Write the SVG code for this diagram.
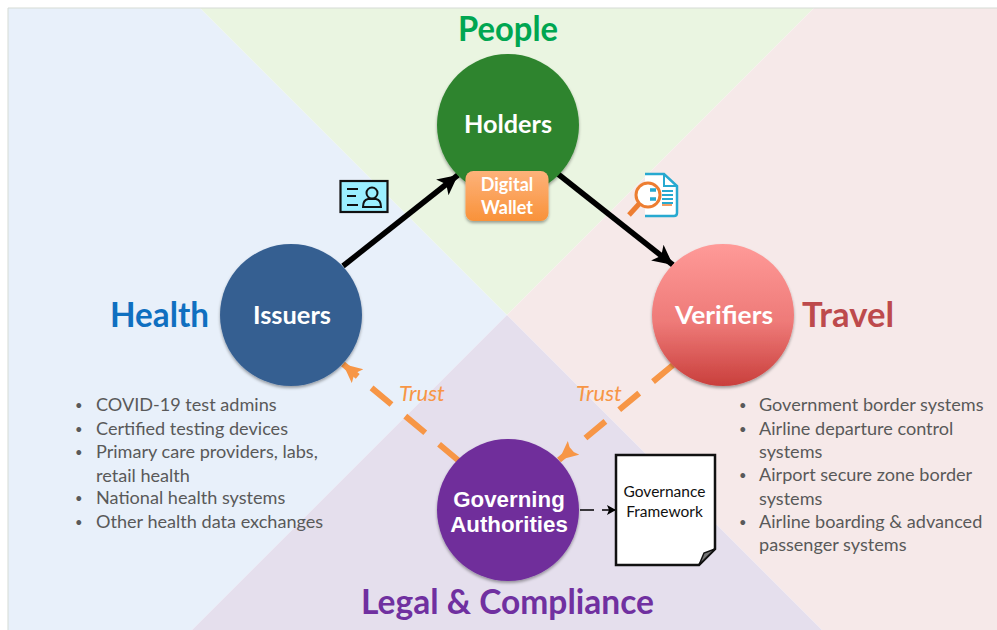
<svg xmlns="http://www.w3.org/2000/svg" width="997" height="630" viewBox="0 0 997 630">
<style>
.t{font-family:Lato,"Liberation Sans",sans-serif}
.h{font-weight:700;font-size:34px;text-anchor:middle}
.n{font-weight:700;font-size:25px;fill:#fff;text-anchor:middle}
.b{font-size:18.1px;fill:#595959}
.d{font-size:13px;fill:#595959}
.tr{font-style:italic;font-size:22px;fill:#f79646}
.gv{font-size:15.500px;fill:#111;text-anchor:middle}
.dash{stroke:#f79646;stroke-width:6;stroke-dasharray:26 18;fill:none}
</style>
<defs>
<filter id="s" x="-10%" y="-10%" width="120%" height="125%"><feDropShadow dx="0" dy="2" stdDeviation="1.5" flood-color="#000" flood-opacity=".35"/></filter>
<linearGradient id="vg" x1="0" y1="0" x2="0" y2="1"><stop offset="0" stop-color="#ff9a98"/><stop offset=".55" stop-color="#ee7a78"/><stop offset="1" stop-color="#c93f3c"/></linearGradient>
<linearGradient id="wg" x1="0" y1="0" x2="0" y2="1"><stop offset="0" stop-color="#fdb27a"/><stop offset="1" stop-color="#f9923a"/></linearGradient>
<marker id="ab" markerUnits="userSpaceOnUse" markerWidth="26" markerHeight="24" refX="20" refY="10" orient="auto"><path d="M0 0L20 10L0 20L5 10Z" fill="#000"/></marker>
<marker id="ao" markerUnits="userSpaceOnUse" markerWidth="24" markerHeight="22" refX="19" refY="9" orient="auto"><path d="M0 0L19 9L0 18L4 9Z" fill="#f79646"/></marker>
<marker id="as" markerUnits="userSpaceOnUse" markerWidth="12" markerHeight="12" refX="9" refY="5" orient="auto"><path d="M0 0L9 5L0 10L2 5Z" fill="#000"/></marker>
</defs>
<rect width="997" height="630" fill="#fff"/>
<g id="background">
<polygon points="8,8 200,8 507,315 192,630 8,630" fill="#e8f0fa"/>
<polygon points="200,8 814,8 507,315" fill="#eaf5e1"/>
<polygon points="814,8 997,8 997,630 822,630 507,315" fill="#f6e9e9"/>
<polygon points="507,315 822,630 192,630" fill="#e5dfed"/>
<path d="M8 630V8H997" fill="none" stroke="#d5dbd5" stroke-width="1"/>
</g>
<g id="connectors">
<line x1="343" y1="266" x2="458" y2="175" stroke="#000" stroke-width="5.500" marker-end="url(#ab)"/>
<line x1="558" y1="174" x2="673" y2="265" stroke="#000" stroke-width="5.500" marker-end="url(#ab)"/>
<line x1="459" y1="461" x2="343" y2="364" class="dash" marker-end="url(#ao)"/>
<line x1="673" y1="365" x2="559" y2="460" class="dash" marker-end="url(#ao)"/>
<line x1="580" y1="510" x2="616" y2="510" stroke="#000" stroke-width="1.600" stroke-dasharray="14 8" marker-end="url(#as)"/>
</g>
<g id="holders">
<circle cx="508" cy="125" r="71" fill="#2e842e" filter="url(#s)"/>
<text class="t n" x="508" y="133" textLength="88" lengthAdjust="spacingAndGlyphs">Holders</text>
</g>
<g id="digital-wallet">
<rect x="465.500" y="171" width="83" height="50" rx="8" fill="url(#wg)" filter="url(#s)"/>
<text class="t" x="507" y="191" font-size="18" font-weight="700" fill="#fff" text-anchor="middle">Digital</text>
<text class="t" x="507" y="214" font-size="18" font-weight="700" fill="#fff" text-anchor="middle">Wallet</text>
</g>
<g id="issuers">
<circle cx="291" cy="315" r="71" fill="#355f91" filter="url(#s)"/>
<text class="t n" x="292" y="324" textLength="78" lengthAdjust="spacingAndGlyphs">Issuers</text>
</g>
<g id="verifiers">
<circle cx="723" cy="315" r="71" fill="url(#vg)" filter="url(#s)"/>
<text class="t n" x="724" y="324" textLength="98" lengthAdjust="spacingAndGlyphs">Verifiers</text>
</g>
<g id="governing-authorities">
<circle cx="508" cy="510" r="71" fill="#6f2e9b" filter="url(#s)"/>
<text x="509" y="507" font-family="'Liberation Sans',sans-serif" font-weight="700" font-size="22.300" fill="#fff" text-anchor="middle">Governing</text>
<text x="509" y="532" font-family="'Liberation Sans',sans-serif" font-weight="700" font-size="22.300" fill="#fff" text-anchor="middle">Authorities</text>
</g>
<g id="governance-framework">
<path d="M616 455H715V549L699 565H616Z" fill="#fff" stroke="#111" stroke-width="2.500"/>
<path d="M699 565L704 553L715 549Z" fill="#777" stroke="#111" stroke-width="1.500"/>
<text class="t gv" x="664.500" y="497">Governance</text>
<text class="t gv" x="664.500" y="517">Framework</text>
</g>
<g id="labels">
<text class="t h" x="508" y="41" fill="#00a651" textLength="100" lengthAdjust="spacingAndGlyphs">People</text>
<text class="t h" x="159.500" y="327" fill="#0f6fc0" textLength="99" lengthAdjust="spacingAndGlyphs">Health</text>
<text class="t h" x="848" y="327" fill="#bd4a4c" textLength="92" lengthAdjust="spacingAndGlyphs">Travel</text>
<text class="t h" x="507.500" y="614" fill="#7030a0" textLength="293" lengthAdjust="spacingAndGlyphs">Legal &amp; Compliance</text>
<text class="t tr" x="399" y="401">Trust</text>
<text class="t tr" x="576" y="401">Trust</text>
</g>
<g id="id-card-icon">
<rect x="340.500" y="181" width="47" height="31" fill="#9befff" stroke="#111" stroke-width="2.200"/>
<path d="M347 189h11M347 196h9M347 205h11" stroke="#111" stroke-width="2" fill="none"/>
<circle cx="372" cy="193" r="5.500" fill="none" stroke="#111" stroke-width="2"/>
<path d="M363 207q0-7 5-8h8q5 1 5 8Z" fill="none" stroke="#111" stroke-width="2"/>
</g>
<g id="document-search-icon">
<path d="M645 174H664L677 186V213Q677 216 674 216H645" fill="#fff" stroke="#27a9d0" stroke-width="2.500"/>
<path d="M664 174V186H677" fill="none" stroke="#27a9d0" stroke-width="2"/>
<path d="M662 191h11M662 195h11M662 199h11M662 203h11" stroke="#27a9d0" stroke-width="1.800"/>
<path d="M662 205h10" stroke="#ed7d31" stroke-width="1.500"/>
<circle cx="648" cy="195" r="12" fill="#fff" stroke="#ed7d31" stroke-width="3"/>
<path d="M639 204L629 215" stroke="#ed7d31" stroke-width="5"/>
<path d="M650 190h6M650 199h6" stroke="#27a9d0" stroke-width="3.500"/>
</g>
<g id="health-list">
<text class="t d" x="75" y="410">•</text><text class="t b" x="96" y="411">COVID-19 test admins</text>
<text class="t d" x="75" y="434">•</text><text class="t b" x="96" y="435">Certified testing devices</text>
<text class="t d" x="75" y="457">•</text><text class="t b" x="96" y="458">Primary care providers, labs,</text>
<text class="t b" x="96" y="482">retail health</text>
<text class="t d" x="75" y="503">•</text><text class="t b" x="96" y="504">National health systems</text>
<text class="t d" x="75" y="527">•</text><text class="t b" x="96" y="528">Other health data exchanges</text>
</g>
<g id="travel-list">
<text class="t d" x="739" y="410">•</text><text class="t b" x="759" y="411">Government border systems</text>
<text class="t d" x="739" y="434">•</text><text class="t b" x="759" y="435">Airline departure control</text>
<text class="t b" x="759" y="458">systems</text>
<text class="t d" x="739" y="480">•</text><text class="t b" x="759" y="481">Airport secure zone border</text>
<text class="t b" x="759" y="505">systems</text>
<text class="t d" x="739" y="527">•</text><text class="t b" x="759" y="528">Airline boarding &amp; advanced</text>
<text class="t b" x="759" y="551">passenger systems</text>
</g>
</svg>
